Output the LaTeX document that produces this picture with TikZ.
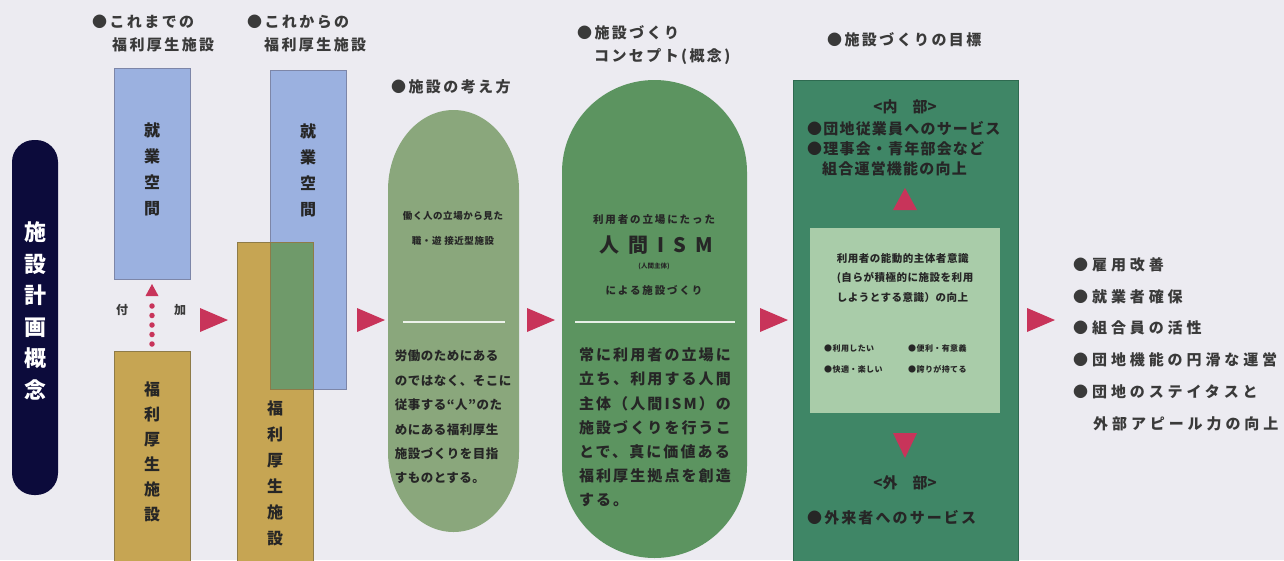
\documentclass[tikz,border=0pt]{standalone}
\usepackage{fontspec}
\setmainfont{Noto Sans CJK JP}
\usetikzlibrary{arrows.meta}
\definecolor{bg}{HTML}{ECEBF1}
\definecolor{navy}{HTML}{0C0B3B}
\definecolor{bluebox}{HTML}{9BB1E0}
\definecolor{blueedge}{HTML}{7D86A8}
\definecolor{gold}{HTML}{C6A553}
\definecolor{goldedge}{HTML}{8E7B48}
\definecolor{mix}{HTML}{6F9A6A}
\definecolor{ovalA}{HTML}{8AA77C}
\definecolor{ovalB}{HTML}{5C9460}
\definecolor{goal}{HTML}{3F8666}
\definecolor{goaledge}{HTML}{2E6A50}
\definecolor{inner}{HTML}{A9CCA9}
\definecolor{tri}{HTML}{C8345A}
\definecolor{ink}{HTML}{262626}
\definecolor{head}{HTML}{3A3A3A}
\newcommand\fsz[2]{\fontsize{#1}{#2}\selectfont}
\newcommand\lsp[1]{\addfontfeatures{LetterSpace=#1}}
\newcommand\rtri[2]{\fill[tri] (#1,#2) ++(-14,-12) -- ++(28,12) -- ++(-28,12) -- cycle;}
\tikzset{
  txt/.style={inner sep=0pt, text=ink, align=center},
  heading/.style={inner sep=0pt, text=head, align=left, anchor=west, font=\fsz{15}{23}\bfseries\lsp{16}},
  vert/.style={inner sep=0pt, text=ink, align=center, font=\fsz{16}{26}\bfseries},
  listitem/.style={inner sep=0pt, text=head, anchor=west, font=\fsz{15}{16}\bfseries\lsp{26}},
}
\begin{document}
\begin{tikzpicture}[x=1pt,y=-1pt]
\useasboundingbox (0,0) rectangle (1284,560);
\fill[bg] (0,0) rectangle (1284,560);

% left title bar
\fill[navy, rounded corners=22pt] (12,140) rectangle (58,495);
\node[inner sep=0pt, text=white, align=center, font=\fsz{22}{31.6}\bfseries] (title) at (35,311) {施\\設\\計\\画\\概\\念};

% column 1
\node[heading] (h1) at (92,22) {●これまでの};
\node[heading] (h1b) at (112,45) {福利厚生施設};
\filldraw[fill=bluebox, draw=blueedge, line width=0.8pt] (114,68) rectangle (190,279);
\node[vert] (b1) at (152,169) {就\\業\\空\\間};
\filldraw[fill=gold, draw=goldedge, line width=0.8pt] (114,351) rectangle (190,565);
\node[vert, font=\fsz{16}{25}\bfseries] (g1) at (152,452) {福\\利\\厚\\生\\施\\設};
\coordinate (dotA) at (152,344);
\coordinate (dotB) at (152,284);
\draw[tri, line width=5.5pt, line cap=round, dash pattern=on 0pt off 9.5pt] (dotA) -- (152,301.5);
\fill[tri] (dotB) -- ++(-6.5,12) -- ++(13,0) -- cycle;
\node[txt, font=\fsz{12}{14}\bfseries, text=head] (fu) at (122,310) {付};
\node[txt, font=\fsz{12}{14}\bfseries, text=head] (ka) at (180,310) {加};
\rtri{214}{320}

% column 2
\node[heading] (h2) at (247,22) {●これからの};
\node[heading] (h2b) at (264,45) {福利厚生施設};
\filldraw[fill=gold, draw=goldedge, line width=0.8pt] (237,242) rectangle (313,565);
\filldraw[fill=bluebox, draw=blueedge, line width=0.8pt] (270,70) rectangle (346,389);
\filldraw[fill=mix, draw=goldedge, line width=0.6pt] (270,242) rectangle (313,389);
\node[vert] (b2) at (308,170) {就\\業\\空\\間};
\node[vert] (g2) at (275,473) {福\\利\\厚\\生\\施\\設};
\rtri{371}{320}

% column 3
\node[heading] (h3) at (391,87) {●施設の考え方};
\fill[ovalA] (388,190) arc[start angle=180, end angle=0, x radius=65.5pt, y radius=80pt]
  -- (519,452) arc[start angle=0, end angle=-180, x radius=65.5pt, y radius=80pt] -- cycle;
\node[txt, font=\fsz{9.5}{25}\bfseries\lsp{6}] (o1a) at (453,228) {働く人の立場から見た\\職・遊\ 接近型施設};
\draw[white!85!ovalA, line width=1.2pt] (403,322) -- (505,322);
\node[txt, align=left, font=\fsz{12.5}{24.4}\bfseries\lsp{4}] (o1b) at (453,417) {労働のためにある\\のではなく、そこに\\従事する“人”のた\\めにある福利厚生\\施設づくりを目指\\すものとする。};
\rtri{541}{320}

% column 4
\node[heading] (h4) at (577,33) {●施設づくり};
\node[heading] (h4b) at (594,57) {コンセプト(概念)};
\fill[ovalB] (562,172) arc[start angle=180, end angle=0, x radius=92.5pt, y radius=92pt]
  -- (747,466) arc[start angle=0, end angle=-180, x radius=92.5pt, y radius=92pt] -- cycle;
\node[txt, font=\fsz{10.5}{12}\bfseries\lsp{18}] (o2a) at (654,220) {利用者の立場にたった};
\node[txt, font=\fsz{20}{22}\bfseries\lsp{45}] (o2b) at (656,245) {人間ISM};
\node[txt, font=\fsz{6.5}{8}\bfseries] (o2c) at (654,266) {(人間主体)};
\node[txt, font=\fsz{10.5}{12}\bfseries\lsp{18}] (o2d) at (654,290) {による施設づくり};
\draw[white!85!ovalB, line width=1.2pt] (575,322) -- (735,322);
\node[txt, align=left, font=\fsz{15}{24.2}\bfseries\lsp{14}] (o2e) at (655,427.5) {常に利用者の立場に\\立ち、利用する人間\\主体（人間ISM）の\\施設づくりを行うこ\\とで、真に価値ある\\福利厚生拠点を創造\\する。};
\rtri{774}{320}

% column 5
\node[heading] (h5) at (827,40) {●施設づくりの目標};
\filldraw[fill=goal, draw=goaledge, line width=0.8pt] (793,80) rectangle (1018,565);
\node[txt, font=\fsz{15}{17}\bfseries] (in) at (905,107) {<内\quad 部>};
\node[txt, align=left, anchor=north west, font=\fsz{15}{20}\bfseries\lsp{8}] (inl) at (807,121) {●団地従業員へのサービス\\●理事会・青年部会など\\\hphantom{●}組合運営機能の向上};
\fill[tri] (905,188) -- (917,210) -- (893,210) -- cycle;
\fill[inner] (810,228) rectangle (1000,413);
\node[txt, align=left, font=\fsz{10.5}{19.5}\bfseries\lsp{5}] (ia) at (905,278) {利用者の能動的主体者意識\\(自らが積極的に施設を利用\\しようとする意識）の向上};
\node[txt, align=left, anchor=west, font=\fsz{8}{21}\bfseries\lsp{5}] (ib) at (824,358.5) {●利用したい\\●快適・楽しい};
\node[txt, align=left, anchor=west, font=\fsz{8}{21}\bfseries\lsp{5}] (ic) at (908,358.5) {●便利・有意義\\●誇りが持てる};
\fill[tri] (893,433) -- (917,433) -- (905,458) -- cycle;
\node[txt, font=\fsz{15}{17}\bfseries] (out) at (905,483) {<外\quad 部>};
\node[txt, anchor=west, font=\fsz{15}{17}\bfseries\lsp{14}] (outl) at (807,518) {●外来者へのサービス};
\rtri{1041}{320}

% results
\node[listitem] (r1) at (1073,265) {●雇用改善};
\node[listitem] (r2) at (1073,297) {●就業者確保};
\node[listitem] (r3) at (1073,328) {●組合員の活性};
\node[listitem] (r4) at (1073,360) {●団地機能の円滑な運営};
\node[listitem] (r5) at (1073,392) {●団地のステイタスと};
\node[listitem] (r6) at (1093,424) {外部アピール力の向上};
\end{tikzpicture}
\end{document}
